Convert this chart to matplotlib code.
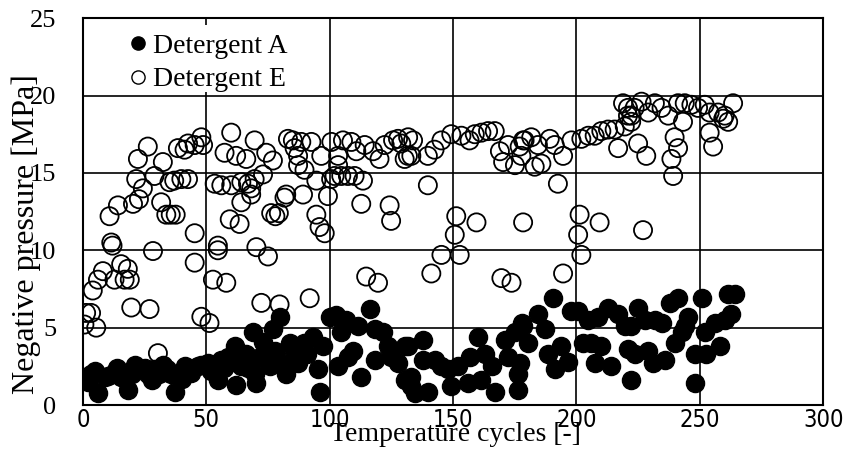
import matplotlib
matplotlib.use("Agg")
import matplotlib.pyplot as plt
from matplotlib.lines import Line2D
from matplotlib.patches import Rectangle

# Detergent A (filled circles): cycle, negative pressure [MPa]
cycles_a = [0.7, 2, 3.4, 5, 6.1, 8.8, 10, 12.8, 14, 15.5, 17, 18.2, 20, 21, 23.6, 25,
            26.3, 28, 29, 31, 32.4, 34, 35.8, 37.2, 38.5, 40, 41.3, 42.6, 44, 46.6, 48,
            50.7, 52, 54.7, 56.1, 57, 58.8, 60, 61.5, 62.2, 64.2, 66, 67, 68.9, 69.6, 70.3,
            71.6, 73, 75.7, 77.1, 78, 79.7, 80, 82.4, 83.8, 85, 86.5, 87.2, 89.8, 91, 93.2,
            95.2, 96, 97.3, 100, 102.7, 103.4, 104.7, 106.8, 107.5, 109.5, 111.5, 112.8,
            116.2, 118.2, 118.2, 121.6, 123.6, 125, 127.7, 130.4, 130.4, 131.7, 133.1,
            133.1, 134.4, 137.8, 137.8, 139.8, 142.5, 145.3, 148, 149.3, 152, 156, 156.7,
            160.2, 161.5, 162.8, 165.6, 166.9, 170.9, 172.3, 175.1, 176.4, 176.4, 177,
            177.8, 178.4, 180.4, 184.4, 187.1, 188.5, 190.5, 191.2, 193.9, 196.6, 198,
            200.7, 202.7, 204.8, 206.1, 207.5, 208.8, 210.1, 212.8, 214.2, 216.9, 219.6,
            221, 222.3, 222.3, 223.6, 225, 227.7, 229.1, 231.1, 231.8, 234.5, 235.9, 237.9,
            239.9, 241.2, 242.6, 243.9, 245.3, 247.9, 247.9, 250.7, 252, 252.7, 256.1,
            258.1, 260.1, 261.5, 262.8, 264.2]
pressure_a = [1.8, 1.5, 2.0, 2.2, 0.75, 1.8, 1.9, 2.1, 2.4, 1.8, 1.7, 0.95, 2.0, 2.6, 2.3, 2.4,
              2.0, 1.6, 2.3, 2.0, 2.6, 2.3, 2.0, 0.85, 2.0, 1.7, 2.5, 2.3, 2.1, 2.5, 2.6,
              2.7, 2.2, 1.6, 2.9, 2.4, 3.1, 2.8, 3.8, 1.3, 2.5, 3.3, 2.4, 4.7, 2.0, 1.4,
              3.1, 4.1, 2.5, 4.9, 3.5, 5.7, 2.8, 2.0, 4.0, 3.6, 3.1, 2.7, 4.0, 3.3, 4.4,
              2.3, 0.85, 3.8, 5.7, 5.8, 2.5, 4.7, 5.5, 3.1, 3.5, 5.1, 1.8,
              6.2, 4.9, 2.9, 4.7, 3.8, 3.1, 2.7, 3.8, 1.6, 3.8, 1.2,
              1.8, 0.75, 4.2, 2.9, 0.85, 2.9, 2.5, 2.3, 1.2, 2.5, 1.4, 3.1,
              4.4, 1.6, 3.3, 2.5, 0.85, 4.2, 3.1, 4.7, 0.95, 2.0, 2.7,
              5.3, 5.1, 4.0, 5.9, 4.9, 3.3, 6.9, 2.3, 3.8, 2.8, 6.1,
              6.1, 4.0, 5.5, 4.0, 2.7, 5.7, 3.8, 6.3, 2.5, 5.9, 5.1,
              3.6, 1.6, 5.1, 3.3, 6.3, 5.5, 3.5, 2.7, 5.5, 5.3, 2.9, 6.6,
              4.0, 6.9, 4.7, 5.1, 5.7, 1.4, 3.3, 6.9, 4.7, 3.3, 5.3,
              3.8, 5.5, 7.2, 5.9, 7.2]

# Detergent E (open circles)
cycles_e = [0.6, 1.3, 3.3, 5.4, 4, 6.1, 8.1, 10.8, 11.5, 12, 12.8, 14.2, 15.5, 16.9, 18.2,
            19, 19.6, 20.3, 21.6, 22.3, 22.7, 24.3, 26.3, 27, 28.4, 29, 30.4, 31.7, 32.4,
            33.8, 35.1, 35.6, 37, 37.6, 38.5, 39.9, 41.2, 42.6, 42.6, 45.3, 45.3, 45.3, 48,
            48, 48.7, 51.3, 52.7, 53.4, 54.7, 54.7, 56.1, 57.4, 58.1, 59.5, 60.1, 60.1,
            62.1, 63.5, 64.2, 64.2, 66.2, 66.9, 68.2, 68.2, 69.6, 69.6, 70.3, 72.3, 73,
            74.3, 75, 76.3, 77, 78, 79.4, 79.7, 81.7, 82.4, 83.1, 85.1, 85.8, 87.2, 87.2,
            88.5, 89.2, 89.8, 91.9, 92.6, 94.6, 94.6, 95.9, 96.6, 98, 99.3, 100.6, 100.7,
            102, 103.4, 103.4, 104.7, 105.4, 107.4, 108.8, 110.1, 110.8, 112.8, 113.5,
            114.2, 114.8, 117.6, 119.6, 120.2, 122.3, 124.3, 124.9, 125.7, 127.7, 129,
            130.4, 131.7, 131.8, 133.1, 133.8, 139.8, 139.8, 141.2, 142.5, 145.3, 145.3,
            149.3, 150.7, 151.3, 152.7, 153.4, 156.7, 158.8, 159.5, 161.5, 164.2, 166.9,
            169, 169.6, 170.3, 172.3, 173.7, 175.1, 177, 177.7, 178.4, 178.4, 179, 181.7,
            183.1, 184.4, 185.8, 189.2, 191.2, 192.5, 194.6, 194.6, 198, 200.7, 201.3,
            202, 202, 204.8, 207.4, 209.4, 210.1, 212.8, 215.5, 216.9, 218.9, 219.6,
            220.9, 220.9, 222.2, 222.3, 223.6, 225, 226.4, 227, 228.3, 229.1, 231.8,
            234.5, 237.2, 238.5, 239.2, 239.8, 241.2, 241.2, 243.2, 243.9, 246.6, 249.3,
            252, 254, 254, 255.4, 257.4, 259.5, 260.1, 261.5, 263.5]
pressure_e = [5.2, 5.95, 5.95, 5.0, 7.4, 8.1, 8.65, 12.2, 10.5, 10.3, 8.1, 12.9, 9.1, 8.1, 8.8,
              8.1, 6.3, 13.0, 14.6, 15.9, 13.3, 14.0, 16.7, 6.2, 9.95, 14.8, 3.35, 13.1, 15.7,
              12.3, 14.4, 12.3, 14.5, 12.3, 16.6, 14.6, 16.5, 16.9, 14.6, 11.1, 9.2, 16.8, 5.7,
              17.3, 16.8, 5.3, 8.1, 14.3, 10.3, 10.0, 14.2, 16.3, 7.9, 12.0, 14.2, 17.6,
              16.1, 11.7, 13.1, 14.4, 15.9, 14.3, 13.6, 14.0, 14.6, 17.1, 10.2, 6.6, 14.9,
              16.3, 9.6, 12.4, 15.8, 12.2, 12.4, 6.5, 13.4, 13.6, 17.2, 17.1, 16.6, 16.1, 15.5,
              17.0, 13.6, 15.2, 6.9, 17.0, 12.3, 14.5, 11.5, 16.1, 11.1, 13.5, 14.6, 17.0,
              14.8, 16.1, 15.5, 14.8, 17.1, 14.8, 17.0, 14.8, 16.4, 13.0, 14.5,
              16.8, 8.3, 16.4, 7.9, 15.9, 16.8, 12.9, 11.9, 17.1, 17.2, 16.9,
              15.9, 16.1, 17.3, 16.1, 17.1, 14.2, 16.1, 8.5, 16.5, 9.7, 17.1,
              17.5, 11.0, 12.2, 9.7, 17.4, 17.1, 17.5, 11.8, 17.6, 17.7, 17.7,
              16.4, 8.2, 15.7, 16.8, 7.9, 15.5, 16.7, 16.1, 17.1, 11.8, 17.1, 17.3,
              15.4, 16.8, 15.6, 17.2, 16.8, 14.3, 16.1, 8.5, 17.1, 11.0, 12.3,
              9.7, 17.2, 17.4, 17.4, 11.8, 17.7, 17.8, 17.8, 16.6, 19.5, 18.0,
              19.2, 18.7, 18.3, 18.7, 19.2, 16.9, 19.6, 11.3, 16.1, 18.9, 19.5,
              19.2, 18.7, 15.9, 14.8, 17.3, 16.6, 19.5, 18.3, 19.5, 19.4, 19.2,
              19.4, 17.6, 18.9, 16.7, 18.9, 18.5, 18.7, 18.3, 19.5]

x_ticks = [0, 50, 100, 150, 200, 250, 300]
y_ticks = [0, 5, 10, 15, 20, 25]

serif = "Liberation Serif"

fig = plt.figure(figsize=(8.46, 4.65), dpi=100)
ax = fig.add_axes([0.098, 0.129, 0.875, 0.832])

ax.scatter(cycles_a, pressure_a, s=170, c="black", edgecolors="black", linewidths=1.0, zorder=3)
ax.scatter(cycles_e, pressure_e, s=170, facecolors="none", edgecolors="black", linewidths=1.3, zorder=3)

ax.set_xlim(0, 300)
ax.set_ylim(0, 25)
ax.set_xticks(x_ticks)
ax.set_yticks(y_ticks)
ax.grid(True, color="black", linewidth=1.2)
ax.set_axisbelow(True)
for sp in ax.spines.values():
    sp.set_linewidth(1.5)
ax.tick_params(length=0)
ax.tick_params(axis="y", pad=19)
ax.tick_params(axis="x", pad=2)
for lab in ax.get_yticklabels():
    lab.set_fontfamily(serif)
    lab.set_fontsize(19)
for lab in ax.get_xticklabels():
    lab.set_fontfamily("DejaVu Sans")
    lab.set_fontstretch("condensed")
    lab.set_fontsize(17)

ax.set_xlabel("Temperature cycles [-]", fontfamily=serif, fontsize=20)
ax.set_ylabel("Negative pressure [MPa]", fontfamily=serif, fontsize=23)
ax.xaxis.set_label_coords(0.503, -0.045)
ax.yaxis.set_label_coords(-0.056, 0.443)

# white patch behind the legend, hiding the grid lines there
ax.add_patch(Rectangle((0.023, 0.81), 0.297, 0.172, transform=ax.transAxes,
                       facecolor="white", edgecolor="none", zorder=2))

handles = [
    Line2D([], [], marker="o", linestyle="none", markersize=9.5, markerfacecolor="black",
           markeredgecolor="black", label="Detergent A"),
    Line2D([], [], marker="o", linestyle="none", markersize=9.5, markerfacecolor="none",
           markeredgecolor="black", markeredgewidth=1.0, label="Detergent E"),
]
leg = ax.legend(handles=handles, loc="upper left", bbox_to_anchor=(0.061, 0.961),
                prop={"family": serif, "size": 20}, frameon=False,
                handletextpad=0.19, handlelength=0.7, borderpad=0.0, labelspacing=0.30,
                borderaxespad=0.0)
leg.set_zorder(5)

fig.savefig("out.png", dpi=100)
